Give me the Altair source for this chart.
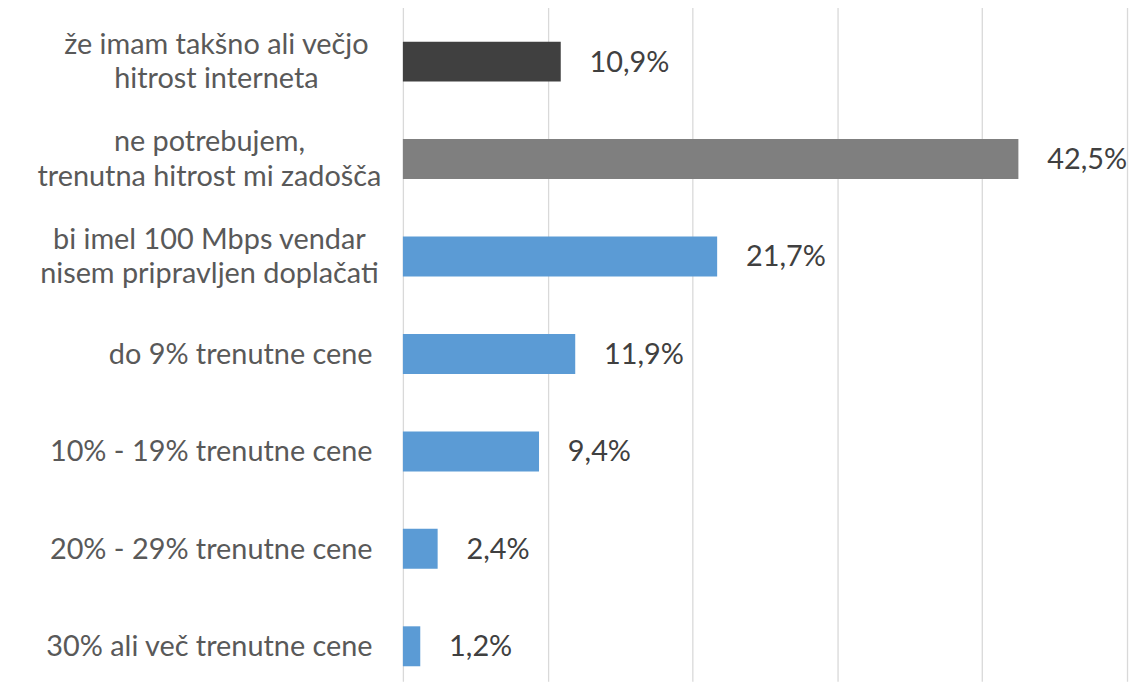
import altair as alt
import pandas as pd

categories = [
    "že imam takšno ali večjo|hitrost interneta",
    "ne potrebujem,|trenutna hitrost mi zadošča",
    "bi imel 100 Mbps vendar|nisem pripravljen doplačati",
    "do 9% trenutne cene",
    "10% - 19% trenutne cene",
    "20% - 29% trenutne cene",
    "30% ali več trenutne cene",
]
values = [10.9, 42.5, 21.7, 11.9, 9.4, 2.4, 1.2]
value_labels = ["10,9%", "42,5%", "21,7%", "11,9%", "9,4%", "2,4%", "1,2%"]
groups = ["imam", "zadošča", "cena", "cena", "cena", "cena", "cena"]
group_domain = ["imam", "zadošča", "cena"]
group_colors = ["#404040", "#7f7f7f", "#5b9bd5"]
grid_values = [0, 10, 20, 30, 40, 50]

df = pd.DataFrame({"cat": categories, "val": values, "lab": value_labels, "grp": groups})

FONT = "Lato"
FS = 29

multi = "indexof(datum.value, '|') >= 0"

y_enc = alt.Y(
    "cat:N",
    sort=categories,
    title=None,
    scale=alt.Scale(range=[0, 684], paddingInner=0.59, paddingOuter=0.286),
    axis=alt.Axis(
        domain=False,
        ticks=False,
        tickSize=0,
        labelExpr="split(datum.label, '|')",
        labelFont=FONT,
        labelFontSize=FS,
        labelColor="#595959",
        labelLineHeight=35,
        labelLimit=400,
        labelBaseline="middle",
        labelAlign={
            "condition": {"test": multi, "value": "center"},
            "value": "right",
        },
        labelOffset={
            "condition": {"test": multi, "value": -17},
            "value": 1,
        },
        labelPadding={
            "condition": [
                {"test": "indexof(datum.value, 'že imam') >= 0", "value": 188},
                {"test": multi, "value": 195},
            ],
            "value": 31,
        },
    ),
)

x_enc = alt.X(
    "val:Q",
    title=None,
    scale=alt.Scale(domain=[0, 50], nice=False, zero=True),
    axis=alt.Axis(
        values=grid_values,
        labels=False,
        ticks=False,
        domain=False,
        grid=True,
        gridColor="#d9d9d9",
        gridWidth=1.3,
    ),
)

bars = alt.Chart(df).mark_bar().encode(
    x=x_enc,
    y=y_enc,
    color=alt.Color(
        "grp:N",
        scale=alt.Scale(domain=group_domain, range=group_colors),
        legend=None,
    ),
)

text = alt.Chart(df).mark_text(
    align="left", baseline="middle", dx=29, dy=1, font=FONT, fontSize=FS, color="#404040"
).encode(
    x=alt.X("val:Q"),
    y=alt.Y("cat:N", sort=categories),
    text="lab:N",
)

chart = (
    alt.layer(bars, text)
    .properties(
        width=728,
        height=671,
        autosize=alt.AutoSizeParams(type="none"),
        padding={"left": 397, "top": 4, "right": 2, "bottom": 0},
    )
    .configure_view(stroke=None)
)

chart.save("out.html", embed_options={"renderer": "svg", "actions": False})
